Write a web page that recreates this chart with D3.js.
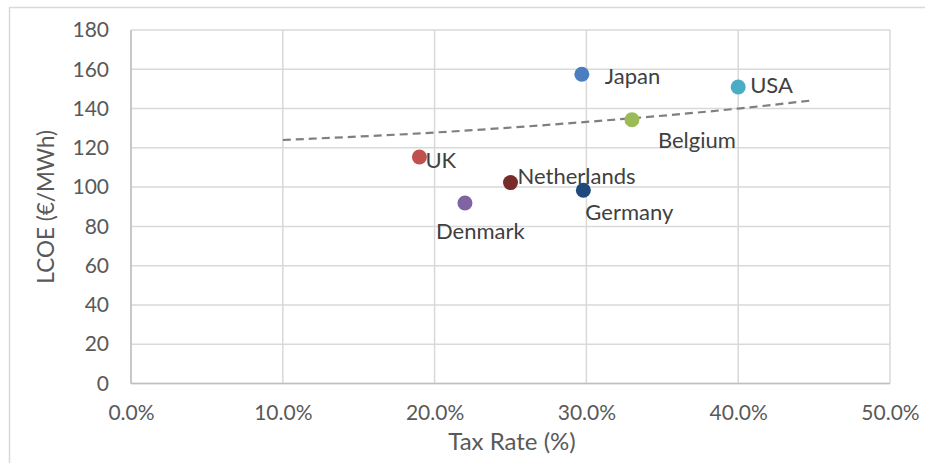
<!DOCTYPE html>
<html>
<head>
<meta charset="utf-8">
<script src="https://cdn.jsdelivr.net/npm/d3@7"></script>
<style>
  html, body { margin: 0; padding: 0; background: #fff; }
  svg { display: block; }
  text { font-family: Lato, "Open Sans", sans-serif; }
</style>
</head>
<body>
<svg id="chart" width="925" height="463"></svg>
<script>
// ---- data ----
const countries = ["Japan", "USA", "Belgium", "UK", "Netherlands", "Germany", "Denmark"];
const taxRates  = [0.297, 0.400, 0.330, 0.190, 0.250, 0.298, 0.220];
const lcoe      = [157.5, 151.0, 134.3, 115.3, 102.3, 98.4, 91.9];
const colors    = ["#4A7EC1", "#4BACC6", "#9BBB59", "#C0504D", "#772C2A", "#1F497D", "#8064A2"];
// trendline
const trendX = [0.10, 0.20, 0.30, 0.40, 0.447];
const trendY = [124.0, 127.8, 133.2, 140.0, 144.0];
const xTicks = [0, 0.1, 0.2, 0.3, 0.4, 0.5];
const yTicks = [0, 20, 40, 60, 80, 100, 120, 140, 160, 180];
// label placement (relative offsets, in px)
const labelDx = [23, 12, 26, 6, 7, 2, -29];
const labelDy = [1, -2, 20, 2, -7, 21, 27];

(function () {
const svg = d3.select("#chart");
const W = 925, H = 463;
const pLeft = 131, pRight = 890, pTop = 30, pBottom = 383.5;

// outer border
svg.append("rect").attr("x", 9.5).attr("y", 7.5).attr("width", W + 10).attr("height", H + 10)
  .attr("fill", "#fff").attr("stroke", "#d9d9d9").attr("stroke-width", 1.5);

const x = d3.scaleLinear().domain([0, 0.5]).range([pLeft, pRight]);
const y = d3.scaleLinear().domain([0, 180]).range([pBottom, pTop]);

// gridlines
const grid = svg.append("g");
grid.selectAll("line.h").data(yTicks).join("line").attr("class", "h")
  .attr("x1", pLeft).attr("x2", pRight)
  .attr("y1", d => y(d)).attr("y2", d => y(d))
  .attr("stroke", "#d9d9d9").attr("stroke-width", 1.5);
grid.selectAll("line.v").data(xTicks).join("line").attr("class", "v")
  .attr("y1", pTop).attr("y2", pBottom)
  .attr("x1", d => x(d)).attr("x2", d => x(d))
  .attr("stroke", "#d9d9d9").attr("stroke-width", 1.5);

// axis lines
svg.append("line").attr("x1", pLeft).attr("x2", pRight).attr("y1", pBottom).attr("y2", pBottom)
  .attr("stroke", "#bfbfbf").attr("stroke-width", 1.5);
svg.append("line").attr("x1", pLeft).attr("x2", pLeft).attr("y1", pTop).attr("y2", pBottom)
  .attr("stroke", "#bfbfbf").attr("stroke-width", 1.5);

// y axis ticks
const yAxis = d3.axisLeft(y).tickValues(yTicks).tickSize(0).tickPadding(22).tickFormat(d3.format("d"));
const gy = svg.append("g").attr("transform", `translate(${pLeft},0)`).call(yAxis);
gy.select(".domain").remove();
gy.selectAll("text").attr("fill", "#595959").style("font-size", "21px").style("font-family", "Lato, sans-serif");

// x axis ticks
const xAxis = d3.axisBottom(x).tickValues(xTicks).tickSize(0).tickPadding(22).tickFormat(d3.format(".1%"));
const gx = svg.append("g").attr("transform", `translate(0,${pBottom})`).call(xAxis);
gx.select(".domain").remove();
gx.selectAll("text").attr("fill", "#595959").style("font-size", "21px").style("font-family", "Lato, sans-serif");

// axis titles
svg.append("text").attr("x", 512).attr("y", 450).attr("text-anchor", "middle")
  .attr("fill", "#595959").style("font-size", "24px").text("Tax Rate (%)");
svg.append("text").attr("transform", `translate(54,${(pTop + pBottom) / 2}) rotate(-90)`)
  .attr("text-anchor", "middle").attr("fill", "#595959").style("font-size", "22.5px").text("LCOE (€/MWh)");

// trendline
const trend = trendX.map((d, i) => [d, trendY[i]]);
svg.append("path").datum(trend)
  .attr("d", d3.line().x(d => x(d[0])).y(d => y(d[1])).curve(d3.curveMonotoneX))
  .attr("fill", "none").attr("stroke", "#7f7f7f").attr("stroke-width", 2.2)
  .attr("stroke-dasharray", "8,5");

// points
const pts = countries.map((c, i) => ({ c, x: taxRates[i], y: lcoe[i], col: colors[i], dx: labelDx[i], dy: labelDy[i] }));
svg.append("g").selectAll("circle").data(pts).join("circle")
  .attr("cx", d => x(d.x)).attr("cy", d => y(d.y)).attr("r", 7.5)
  .attr("fill", d => d.col);

// labels
svg.append("g").selectAll("text").data(pts).join("text")
  .attr("x", d => x(d.x) + d.dx).attr("y", d => y(d.y) + d.dy)
  .attr("dominant-baseline", "central")
  .attr("fill", "#404040").style("font-size", "22px").text(d => d.c);
})();
</script>
</body>
</html>
